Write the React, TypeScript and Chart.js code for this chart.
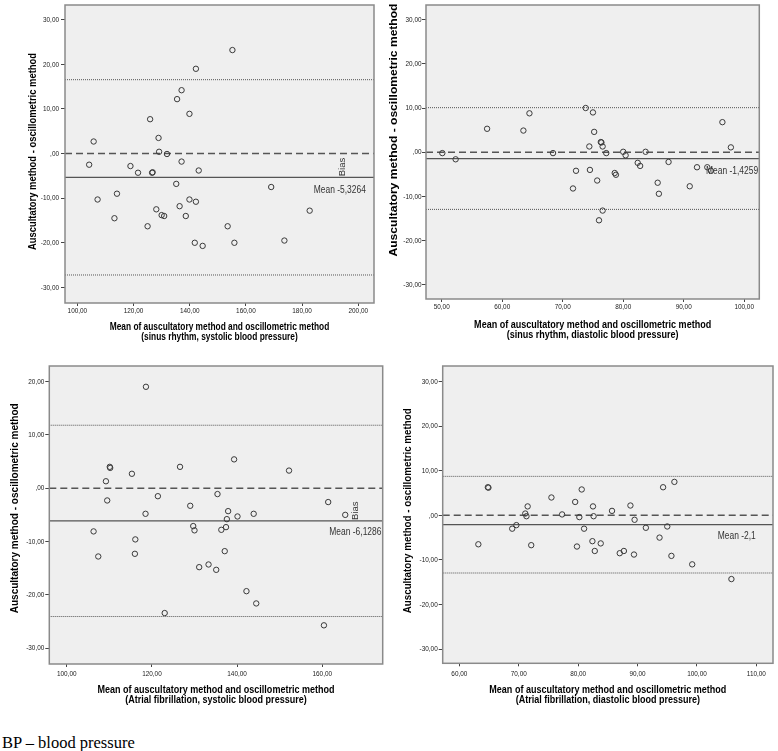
import React, { useEffect, useRef } from "react";
import { Chart, registerables } from "chart.js";

Chart.register(...registerables);

const SANS = '"Liberation Sans", Arial, sans-serif';
const NARROW_SCALE = 0.82;

// ---------- Panel 1: sinus rhythm, systolic ----------
const sinusSysMeanBP = [155.2, 142.2, 137.1, 135.5, 139.9, 125.9, 105.8, 128.9, 129.1, 131.9, 104.2, 118.9, 121.6, 126.6, 126.8, 137.1, 143.2, 135.2, 169.0, 107.2, 114.1, 113.2, 128.1, 130.0, 130.9, 136.4, 138.6, 139.9, 142.2, 125.0, 153.5, 141.8, 144.6, 155.9, 173.7, 182.7];
const sinusSysDiff = [23.2, 19.0, 14.2, 12.2, 8.9, 7.7, 2.7, 3.5, 0.4, -0.1, -2.5, -2.8, -4.3, -4.3, -4.2, -1.8, -3.8, -6.8, -7.5, -10.3, -9.0, -14.5, -12.5, -13.8, -14.0, -11.8, -14.0, -10.3, -10.8, -16.3, -16.3, -20.0, -20.7, -20.0, -19.5, -12.8];
const sinusSysStats = { mean: -5.3264, upper: 16.56, lower: -27.22, meanLabel: "Mean -5,3264" };
const sinusSysXTicks = [100, 120, 140, 160, 180, 200];

// ---------- Panel 2: sinus rhythm, diastolic ----------
const sinusDiaMeanBP = [50.1, 52.3, 57.5, 63.5, 64.5, 68.4, 73.8, 75.0, 75.2, 74.4, 76.3, 76.4, 76.6, 77.2, 71.7, 72.2, 74.5, 75.7, 76.0, 76.6, 78.6, 78.8, 80.0, 80.4, 83.7, 82.4, 82.8, 87.5, 85.7, 85.9, 91.0, 92.2, 93.9, 94.5, 96.4, 97.8];
const sinusDiaDiff = [-0.2, -1.6, 5.3, 4.9, 8.8, -0.2, 10.0, 9.0, 4.6, 1.3, 2.3, 2.2, 1.3, -0.2, -8.2, -4.2, -4.0, -6.4, -15.4, -13.2, -4.7, -5.1, 0.1, -0.7, 0.1, -2.4, -3.1, -2.2, -6.9, -9.4, -7.7, -3.4, -3.4, -4.2, 6.8, 1.1];
const sinusDiaStats = { mean: -1.4259, upper: 10.08, lower: -12.93, meanLabel: "Mean -1,4259" };
const sinusDiaXTicks = [50, 60, 70, 80, 90, 100];

// ---------- Panel 3: atrial fibrillation, systolic ----------
const afSysMeanBP = [118.6, 109.2, 110.1, 110.2, 115.3, 109.5, 106.3, 107.4, 116.1, 116.0, 118.5, 121.4, 126.6, 129.0, 129.7, 130.0, 131.1, 133.3, 135.1, 123.0, 135.4, 136.3, 137.4, 137.6, 137.9, 137.1, 139.3, 140.1, 142.2, 144.5, 143.9, 152.2, 160.4, 161.4, 165.4];
const afSysDiff = [19.0, 1.3, 4.0, 3.8, 2.7, -2.3, -8.1, -12.8, -9.6, -12.3, -4.8, -1.5, 4.0, -3.3, -7.1, -7.9, -14.8, -14.3, -15.3, -23.4, -1.1, -7.8, -7.3, -5.8, -4.3, -11.8, 5.4, -5.3, -19.3, -21.6, -4.8, 3.3, -25.7, -2.6, -5.0];
const afSysStats = { mean: -6.1286, upper: 11.8, lower: -24.05, meanLabel: "Mean -6,1286" };
const afSysXTicks = [100, 120, 140, 160];

// ---------- Panel 4: atrial fibrillation, diastolic ----------
const afDiaMeanBP = [63.2, 64.8, 64.9, 68.9, 69.6, 71.1, 71.3, 71.5, 72.1, 75.5, 77.3, 79.5, 80.2, 80.6, 81.0, 79.8, 82.5, 82.6, 82.4, 82.8, 83.8, 85.7, 87.0, 87.7, 88.8, 89.4, 89.5, 91.4, 93.7, 94.3, 95.0, 95.7, 96.2, 99.2, 105.8];
const afDiaDiff = [-6.5, 6.3, 6.2, -3.0, -2.2, 0.4, -0.2, 2.0, -6.7, 4.0, 0.2, 3.0, -0.4, 5.8, -3.0, -7.0, 2.0, -0.2, -5.8, -8.0, -6.3, 1.0, -8.5, -8.0, 2.2, -8.8, -1.0, -2.8, -5.0, 6.3, -2.5, -9.1, 7.5, -11.0, -14.3];
const afDiaStats = { mean: -2.1, upper: 8.74, lower: -12.94, meanLabel: "Mean -2,1" };
const afDiaXTicks = [60, 70, 80, 90, 100, 110];

const yTicksFull = [-30, -20, -10, 0, 10, 20, 30];
const yTicksAfSys = [-30, -20, -10, 0, 10, 20];

const yTitle = "Auscultatory method - oscillometric method";
const xTitleMain = "Mean of auscultatory method and oscillometric method";
const xSub1 = "(sinus rhythm, systolic blood pressure)";
const xSub2 = "(sinus rhythm, diastolic blood pressure)";
const xSub3 = "(Atrial fibrillation, systolic blood pressure)";
const xSub4 = "(Atrial fibrillation, diastolic blood pressure)";
const biasText = "Bias";
const footnote = "BP \u2013 blood pressure";

const fmt = (v: number) => {
  const s = Math.abs(v).toFixed(2).replace(".", ",");
  const t = s.startsWith("0,") ? s.slice(1) : s;
  return (v < 0 ? "-" : "") + t;
};

type PanelCfg = {
  xs: number[]; ys: number[]; stats: { mean: number; upper: number; lower: number; meanLabel: string };
  xTicks: number[]; yTicks: number[];
  xMin: number; xMax: number; yMin: number; yMax: number;
  sub: string;
  left: number; top: number; w: number; h: number;
  area: { l: number; t: number; r: number; b: number };
  xTitleSize: number; xTitleY1: number; xTitleY2: number;
  yTitleSize: number; yTitleX: number; yTitleY: number; yTitleLen: number;
  xTickDy: number; yTickDx: number;
  labelX: number; labelDy: number; biasX: number | null;
};

const panels: PanelCfg[] = [
  {
    xs: sinusSysMeanBP, ys: sinusSysDiff, stats: sinusSysStats, xTicks: sinusSysXTicks, yTicks: yTicksFull,
    xMin: 95.6, xMax: 205.6, yMin: -33.5, yMax: 33.3, sub: xSub1,
    left: 0, top: 0, w: 390, h: 350, area: { l: 65, t: 2, r: 374, b: 303 },
    xTitleSize: 10.2, xTitleY1: 326.7, xTitleY2: 337,
    yTitleSize: 10.5, yTitleX: 33, yTitleY: 151.5, yTitleLen: 197,
    xTickDy: 7.5, yTickDx: 6,
    labelX: 202.7, labelDy: 13, biasX: 194.3,
  },
  {
    xs: sinusDiaMeanBP, ys: sinusDiaDiff, stats: sinusDiaStats, xTicks: sinusDiaXTicks, yTicks: yTicksFull,
    xMin: 47.4, xMax: 102.5, yMin: -33.2, yMax: 33.3, sub: xSub2,
    left: 380, top: 0, w: 398, h: 350, area: { l: 426, t: 2, r: 759.3, b: 299 },
    xTitleSize: 11, xTitleY1: 325, xTitleY2: 335,
    yTitleSize: 11.5, yTitleX: 394, yTitleY: 130, yTitleLen: 253,
    xTickDy: 7.7, yTickDx: 4.5,
    labelX: 102.3, labelDy: 13, biasX: null,
  },
  {
    xs: afSysMeanBP, ys: afSysDiff, stats: afSysStats, xTicks: afSysXTicks, yTicks: yTicksAfSys,
    xMin: 95.9, xMax: 174.2, yMin: -32.95, yMax: 22.9, sub: xSub3,
    left: 0, top: 355, w: 390, h: 360, area: { l: 49.3, t: 366, r: 382.7, b: 664 },
    xTitleSize: 11, xTitleY1: 690, xTitleY2: 700,
    yTitleSize: 11, yTitleX: 15, yTitleY: 508.3, yTitleLen: 210,
    xTickDy: 9.3, yTickDx: 5,
    labelX: 173.9, labelDy: 11, biasX: 167.9,
  },
  {
    xs: afDiaMeanBP, ys: afDiaDiff, stats: afDiaStats, xTicks: afDiaXTicks, yTicks: yTicksFull,
    xMin: 57.2, xMax: 112.8, yMin: -33.2, yMax: 33.5, sub: xSub4,
    left: 390, top: 355, w: 388, h: 360, area: { l: 442.7, t: 366, r: 776.7, b: 663.3 },
    xTitleSize: 11, xTitleY1: 690, xTitleY2: 700,
    yTitleSize: 11, yTitleX: 408.3, yTitleY: 510.8, yTitleLen: 205,
    xTickDy: 10.5, yTickDx: 5,
    labelX: 109.9, labelDy: 11, biasX: null,
  },
];

// draws real text, horizontally condensed like the narrow font of the original
function drawText(
  ctx: CanvasRenderingContext2D, text: string, x: number, y: number, font: string,
  align: CanvasTextAlign, sx: number, rot = 0, color = "#000", targetLen?: number,
) {
  ctx.save();
  ctx.font = font;
  let scale = sx;
  if (targetLen) scale = targetLen / ctx.measureText(text).width;
  ctx.translate(x, y);
  if (rot) ctx.rotate(rot);
  ctx.scale(scale, 1);
  ctx.fillStyle = color;
  ctx.textAlign = align;
  ctx.textBaseline = "middle";
  ctx.fillText(text, 0, 0);
  ctx.restore();
}

function BAPanel({ cfg }: { cfg: PanelCfg }) {
  const ref = useRef<HTMLCanvasElement | null>(null);
  useEffect(() => {
    const canvas = ref.current;
    if (!canvas) return;
    const a = cfg.area;
    const yAxisW = a.l - cfg.left;
    const xAxisH = cfg.top + cfg.h - a.b;
    const padTop = a.t - cfg.top;
    const padRight = cfg.left + cfg.w - a.r;
    const ox = cfg.left;
    const oy = cfg.top;

    const baPlugin = {
      id: "baPlugin",
      beforeDraw(chart: any) {
        const { ctx, chartArea: ca } = chart;
        ctx.save();
        ctx.fillStyle = "#efefef";
        ctx.fillRect(ca.left, ca.top, ca.right - ca.left, ca.bottom - ca.top);
        ctx.restore();
      },
      beforeDatasetsDraw(chart: any) {
        const { ctx, chartArea: ca, scales } = chart;
        const y = scales.y;
        const hline = (v: number, dash: number[], width: number, color: string) => {
          const py = y.getPixelForValue(v);
          ctx.save();
          ctx.beginPath();
          ctx.setLineDash(dash);
          ctx.lineWidth = width;
          ctx.strokeStyle = color;
          ctx.moveTo(ca.left, py);
          ctx.lineTo(ca.right, py);
          ctx.stroke();
          ctx.restore();
        };
        hline(cfg.stats.upper, [1, 1], 1, "#555");
        hline(cfg.stats.lower, [1, 1], 1, "#555");
        hline(0, [7, 4], 1.5, "#555");
        hline(cfg.stats.mean, [], 1.2, "#555");
      },
      afterDatasetsDraw(chart: any) {
        const { ctx, scales } = chart;
        const px = scales.x.getPixelForValue(cfg.labelX);
        const py = scales.y.getPixelForValue(cfg.stats.mean);
        drawText(ctx, cfg.stats.meanLabel, px, py + cfg.labelDy, `10.3px ${SANS}`, "right", NARROW_SCALE, 0, "#333");
        if (cfg.biasX !== null) {
          const bx = scales.x.getPixelForValue(cfg.biasX);
          drawText(ctx, biasText, bx, py - 1, `9.5px ${SANS}`, "left", 1, -Math.PI / 2, "#333");
        }
      },
      afterDraw(chart: any) {
        const { ctx, chartArea: ca, scales } = chart;
        ctx.save();
        ctx.strokeStyle = "#8a8a8a";
        ctx.lineWidth = 1.5;
        ctx.strokeRect(ca.left, ca.top, ca.right - ca.left, ca.bottom - ca.top);
        ctx.restore();
        // tick labels
        const tickFont = `8px ${SANS}`;
        for (const v of cfg.xTicks) {
          drawText(ctx, fmt(v), scales.x.getPixelForValue(v), ca.bottom + cfg.xTickDy, tickFont, "center", 0.8, 0, "#222");
        }
        for (const v of cfg.yTicks) {
          drawText(ctx, fmt(v), ca.left - cfg.yTickDx, scales.y.getPixelForValue(v), tickFont, "right", 0.8, 0, "#222");
        }
        // axis titles
        const cx = (ca.left + ca.right) / 2;
        const xf = `bold ${cfg.xTitleSize}px ${SANS}`;
        drawText(ctx, xTitleMain, cx, cfg.xTitleY1 - oy, xf, "center", NARROW_SCALE);
        drawText(ctx, cfg.sub, cx, cfg.xTitleY2 - oy, xf, "center", NARROW_SCALE);
        drawText(ctx, yTitle, cfg.yTitleX - ox, cfg.yTitleY - oy, `bold ${cfg.yTitleSize}px ${SANS}`, "center", 1, -Math.PI / 2, "#000", cfg.yTitleLen);
      },
    };

    const chart = new Chart(canvas, {
      type: "scatter",
      data: {
        datasets: [
          {
            data: cfg.xs.map((x, i) => ({ x, y: cfg.ys[i] })),
            pointStyle: "circle",
            pointRadius: 2.7,
            pointBorderWidth: 1,
            pointBorderColor: "#3a3a3a",
            pointBackgroundColor: "rgba(0,0,0,0)",
          },
        ],
      },
      options: {
        animation: false,
        responsive: false,
        maintainAspectRatio: false,
        events: [],
        layout: { padding: { left: 0, top: padTop, right: padRight, bottom: 0 } },
        plugins: { legend: { display: false }, tooltip: { enabled: false } },
        scales: {
          x: {
            type: "linear",
            min: cfg.xMin,
            max: cfg.xMax,
            afterBuildTicks: (s: any) => { s.ticks = cfg.xTicks.map((v) => ({ value: v })); },
            afterFit: (s: any) => { s.height = xAxisH; },
            grid: { drawOnChartArea: false, drawTicks: true, tickLength: 3, color: "#444", lineWidth: 1 },
            border: { display: false },
            ticks: { display: false, autoSkip: false },
            title: { display: false },
          },
          y: {
            type: "linear",
            min: cfg.yMin,
            max: cfg.yMax,
            afterBuildTicks: (s: any) => { s.ticks = cfg.yTicks.map((v) => ({ value: v })); },
            afterFit: (s: any) => { s.width = yAxisW; },
            grid: { drawOnChartArea: false, drawTicks: true, tickLength: 4, color: "#444", lineWidth: 1 },
            border: { display: false },
            ticks: { display: false, autoSkip: false },
            title: { display: false },
          },
        },
      },
      plugins: [baPlugin],
    } as any);
    return () => chart.destroy();
  }, [cfg]);
  return (
    <canvas
      ref={ref}
      width={cfg.w}
      height={cfg.h}
      style={{ position: "absolute", left: cfg.left, top: cfg.top, width: cfg.w, height: cfg.h }}
    />
  );
}

export default function App() {
  return (
    <div style={{ position: "absolute", left: 0, top: 0, width: 778, height: 751, background: "#fff", overflow: "hidden" }}>
      {panels.map((p, i) => (
        <BAPanel key={i} cfg={p} />
      ))}
      <div
        style={{
          position: "absolute",
          left: 2,
          top: 734,
          fontFamily: '"Liberation Serif", "Times New Roman", serif',
          fontSize: 16.5,
          lineHeight: "17px",
          color: "#000",
          whiteSpace: "nowrap",
        }}
      >
        {footnote}
      </div>
    </div>
  );
}
